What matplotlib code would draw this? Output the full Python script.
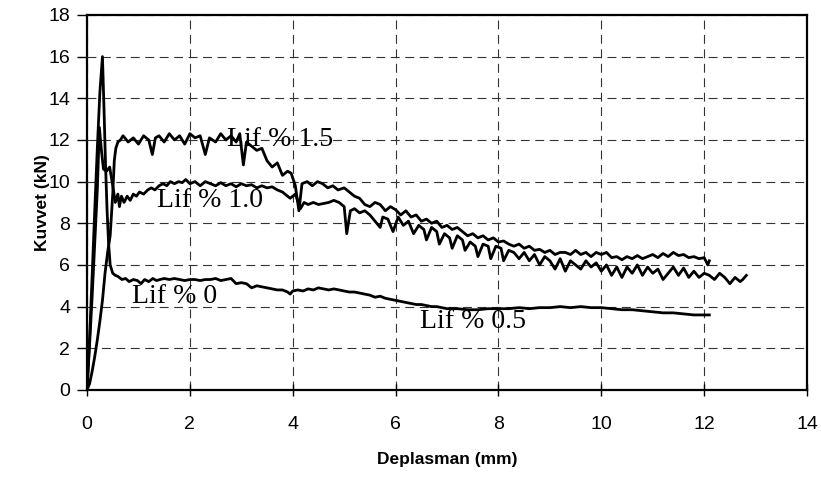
import matplotlib
matplotlib.use('Agg')
import matplotlib.pyplot as plt

# Lif % 1.5 (upper curve)
x15 = [0, 0.05, 0.1, 0.15, 0.2, 0.25, 0.3, 0.35, 0.4, 0.45, 0.5, 0.53, 0.56, 0.6, 0.65,
       0.7, 0.8, 0.9, 1.0, 1.1, 1.2, 1.27, 1.33, 1.4, 1.5, 1.6, 1.7, 1.8, 1.9, 2.0, 2.1,
       2.2, 2.3, 2.38, 2.5, 2.6, 2.7, 2.8, 2.9, 2.97, 3.04, 3.1, 3.2, 3.3, 3.4, 3.5, 3.6,
       3.7, 3.8, 3.9, 3.97, 4.05, 4.12, 4.18, 4.28, 4.38, 4.48, 4.58, 4.68, 4.78, 4.88,
       5.0, 5.1, 5.2, 5.3, 5.4, 5.5, 5.6, 5.7, 5.8, 5.9, 6.0, 6.1, 6.2, 6.3, 6.4, 6.5,
       6.6, 6.7, 6.8, 6.9, 7.0, 7.1, 7.2, 7.3, 7.4, 7.5, 7.6, 7.7, 7.8, 7.9, 8.0, 8.1,
       8.2, 8.3, 8.4, 8.5, 8.6, 8.7, 8.8, 8.9, 9.0, 9.1, 9.2, 9.3, 9.4, 9.5, 9.6, 9.7,
       9.8, 9.9, 10.0, 10.1, 10.2, 10.3, 10.4, 10.5, 10.6, 10.7, 10.8, 10.9, 11.0, 11.1,
       11.2, 11.3, 11.4, 11.5, 11.6, 11.7, 11.8, 11.9, 12.0, 12.07, 12.1]
y15 = [0, 0.3, 0.9, 1.6, 2.4, 3.3, 4.3, 5.6, 6.6, 7.4, 9.4, 11.0, 11.6, 11.9, 12.0,
       12.2, 11.9, 12.1, 11.8, 12.2, 12.0, 11.3, 12.1, 12.2, 11.9, 12.3, 12.0, 12.2, 11.8, 12.3, 12.1,
       12.2, 11.3, 12.1, 11.9, 12.3, 12.0, 12.2, 11.9, 12.3, 10.8, 11.9, 11.7, 11.5, 11.6, 11.0, 10.7,
       10.9, 10.3, 10.5, 10.4, 9.8, 8.6, 9.9, 10.0, 9.8, 10.0, 9.9, 9.7, 9.8, 9.6,
       9.7, 9.5, 9.3, 9.2, 8.9, 8.8, 9.0, 8.9, 8.6, 8.8, 8.65, 8.4, 8.6, 8.3, 8.4, 8.1,
       8.2, 8.0, 8.1, 7.8, 7.9, 7.7, 7.8, 7.6, 7.4, 7.5, 7.3, 7.4, 7.2, 7.3, 7.1, 7.15,
       7.0, 6.9, 7.0, 6.8, 6.9, 6.7, 6.75, 6.6, 6.7, 6.5, 6.6, 6.6, 6.5, 6.7, 6.5, 6.6,
       6.4, 6.6, 6.5, 6.6, 6.35, 6.4, 6.25, 6.4, 6.3, 6.45, 6.3, 6.4, 6.5, 6.35,
       6.55, 6.4, 6.6, 6.45, 6.5, 6.35, 6.4, 6.3, 6.35, 6.0, 6.2]

# Lif % 1.0 (middle curve)
x10 = [0, 0.05, 0.1, 0.15, 0.2, 0.24, 0.28, 0.32, 0.38, 0.44, 0.5, 0.55, 0.6, 0.63, 0.67,
       0.72, 0.78, 0.84, 0.9, 0.96, 1.02, 1.1, 1.18, 1.25, 1.32, 1.4, 1.48, 1.55, 1.62, 1.7,
       1.78, 1.85, 1.92, 2.0, 2.1, 2.2, 2.3, 2.4, 2.5, 2.6, 2.7, 2.8, 2.9, 3.0, 3.1, 3.2,
       3.3, 3.4, 3.5, 3.6, 3.7, 3.8, 3.9, 3.95, 4.05, 4.15, 4.22, 4.3, 4.4, 4.5, 4.6, 4.7,
       4.8, 4.9, 5.0, 5.05, 5.12, 5.2, 5.3, 5.4, 5.5, 5.6, 5.7, 5.75, 5.85, 5.95, 6.05, 6.15,
       6.25, 6.35, 6.45, 6.55, 6.6, 6.7, 6.8, 6.85, 6.95, 7.05, 7.1, 7.2, 7.3, 7.35, 7.45,
       7.55, 7.6, 7.7, 7.8, 7.85, 7.95, 8.05, 8.1, 8.2, 8.3, 8.4, 8.5, 8.6, 8.7, 8.8, 8.9,
       9.0, 9.1, 9.2, 9.3, 9.4, 9.5, 9.6, 9.7, 9.8, 9.9, 10.0, 10.1, 10.2, 10.3, 10.4, 10.5,
       10.6, 10.7, 10.8, 10.9, 11.0, 11.1, 11.2, 11.3, 11.4, 11.5, 11.6, 11.7, 11.8, 11.9,
       12.0, 12.1, 12.2, 12.3, 12.4, 12.5, 12.6, 12.7, 12.75, 12.82]
y10 = [0, 2.2, 4.5, 7.0, 9.6, 12.6, 11.5, 10.6, 10.5, 10.7, 9.8, 9.0, 9.4, 8.8, 9.3,
       9.0, 9.3, 9.1, 9.4, 9.3, 9.5, 9.4, 9.6, 9.7, 9.6, 9.8, 9.9, 9.8, 10.0, 9.9,
       10.0, 9.95, 10.1, 9.9, 10.0, 9.8, 10.0, 9.9, 9.8, 9.95, 9.8, 9.9, 9.75, 9.9, 9.8, 9.85,
       9.7, 9.8, 9.7, 9.75, 9.6, 9.5, 9.3, 9.2, 9.4, 8.7, 9.0, 8.9, 9.0, 8.9, 8.95, 9.0,
       9.1, 9.0, 8.8, 7.5, 8.6, 8.7, 8.5, 8.6, 8.4, 8.1, 7.8, 8.3, 8.2, 7.6, 8.3, 7.9,
       8.1, 7.5, 7.9, 7.7, 7.2, 7.8, 7.6, 7.0, 7.5, 7.3, 6.8, 7.4, 7.2, 6.7, 7.1,
       6.9, 6.4, 7.0, 6.9, 6.3, 6.9, 6.8, 6.2, 6.7, 6.6, 6.3, 6.6, 6.2, 6.5, 6.0, 6.4,
       6.2, 5.8, 6.3, 5.7, 6.2, 6.0, 5.8, 6.2, 5.9, 6.1, 5.7, 6.0, 5.5, 5.9, 5.4, 5.9,
       5.6, 6.0, 5.5, 5.9, 5.6, 5.8, 5.3, 5.6, 5.9, 5.5, 5.85, 5.4, 5.7, 5.4,
       5.6, 5.5, 5.3, 5.6, 5.4, 5.1, 5.4, 5.2, 5.3, 5.5]

# Lif % 0 / 0.5 (lower curve)
x05 = [0, 0.05, 0.1, 0.15, 0.2, 0.25, 0.3, 0.33, 0.36, 0.39, 0.42, 0.45, 0.5, 0.55, 0.6,
       0.68, 0.75, 0.82, 0.9, 0.98, 1.05, 1.12, 1.2, 1.28, 1.35, 1.42, 1.5, 1.6, 1.7, 1.8,
       1.9, 2.0, 2.1, 2.2, 2.3, 2.4, 2.5, 2.6, 2.7, 2.8, 2.9, 3.0, 3.1, 3.2, 3.3, 3.4, 3.5,
       3.6, 3.7, 3.8, 3.9, 3.95, 4.0, 4.1, 4.2, 4.3, 4.4, 4.5, 4.6, 4.7, 4.8, 4.9, 5.0,
       5.1, 5.2, 5.3, 5.4, 5.5, 5.6, 5.7, 5.8, 5.9, 6.0, 6.1, 6.2, 6.3, 6.4, 6.5, 6.6,
       6.7, 6.8, 6.9, 7.0, 7.2, 7.4, 7.6, 7.8, 8.0, 8.2, 8.4, 8.6, 8.8, 9.0, 9.2, 9.4,
       9.6, 9.8, 10.0, 10.2, 10.4, 10.6, 10.8, 11.0, 11.2, 11.4, 11.6, 11.8, 12.0, 12.1]
y05 = [0, 2.5, 5.5, 8.6, 11.6, 14.3, 16.0, 13.5, 10.8, 8.6, 7.0, 6.0, 5.6, 5.5, 5.45,
       5.3, 5.35, 5.2, 5.3, 5.25, 5.1, 5.3, 5.2, 5.35, 5.25, 5.3, 5.35, 5.3, 5.35, 5.3,
       5.25, 5.3, 5.3, 5.25, 5.3, 5.3, 5.35, 5.25, 5.3, 5.35, 5.1, 5.15, 5.1, 4.9, 5.0, 4.95, 4.9,
       4.85, 4.8, 4.8, 4.7, 4.6, 4.75, 4.8, 4.75, 4.85, 4.8, 4.9, 4.85, 4.8, 4.85, 4.8, 4.75,
       4.7, 4.7, 4.65, 4.6, 4.55, 4.45, 4.5, 4.4, 4.35, 4.3, 4.25, 4.2, 4.15, 4.1, 4.1, 4.05,
       4.0, 4.0, 3.95, 3.9, 3.9, 3.85, 3.85, 3.9, 3.9, 3.9, 3.95, 3.9, 3.95, 3.95, 4.0, 3.95,
       4.0, 3.95, 3.95, 3.9, 3.85, 3.85, 3.8, 3.75, 3.7, 3.7, 3.65, 3.6, 3.6, 3.6]

# curve labels and where they sit
label_text = ['Lif % 1.5', 'Lif % 1.0', 'Lif % 0', 'Lif % 0.5']
label_x = [2.73, 1.36, 0.88, 6.47]
label_y = [12.0, 9.1, 4.5, 3.3]

sans = 'Liberation Sans'

fig = plt.figure(figsize=(8.21, 4.82), dpi=100)
ax = fig.add_axes([0.106, 0.191, 0.877, 0.778])

ax.plot(x15, y15, color='black', lw=2.0)
ax.plot(x10, y10, color='black', lw=2.0)
ax.plot(x05, y05, color='black', lw=2.0)

for t, tx, ty in zip(label_text, label_x, label_y):
    ax.text(tx, ty, t, family='Liberation Serif', fontsize=20, ha='left', va='center')

ax.set_xlim(0, 14)
ax.set_ylim(0, 18)
ax.set_xticks(range(0, 15, 2))
ax.set_yticks(range(0, 19, 2))
ax.grid(True, color='#333333', lw=0.8, linestyle=(0, (8, 5)))

for s in ax.spines.values():
    s.set_linewidth(1.6)
    s.set_color('black')

ax.tick_params(axis='x', direction='inout', length=9, width=1, pad=14)
ax.tick_params(axis='y', direction='out', length=7, width=1, pad=5)
for lab in ax.get_xticklabels() + ax.get_yticklabels():
    lab.set_family(sans)
    lab.set_fontsize(14)

ax.set_xlabel('Deplasman (mm)', family=sans, fontsize=12.5, fontweight='bold', labelpad=14)
ax.set_ylabel('Kuvvet (kN)', family=sans, fontsize=12.5, fontweight='bold', labelpad=-1)

fig.savefig('out.png', dpi=100)
